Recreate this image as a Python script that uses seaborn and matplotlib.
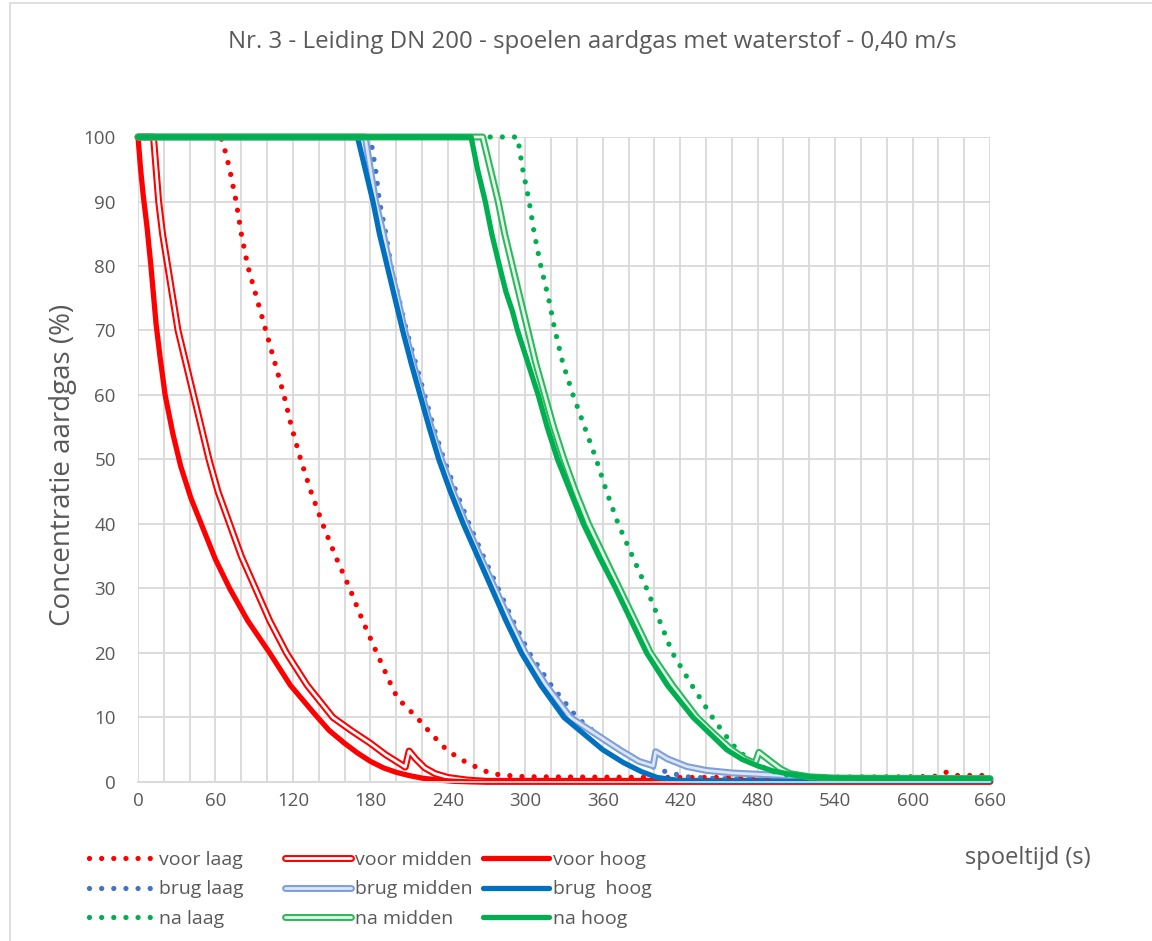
import matplotlib

matplotlib.use("Agg")
import matplotlib.pyplot as plt
import seaborn as sns
from matplotlib.legend_handler import HandlerTuple
from matplotlib.lines import Line2D
from matplotlib.patches import Rectangle

# values: spoeltijd (s) vs concentratie aardgas (%)
voor_laag_t = [0, 64, 66, 71, 76, 80, 85, 92, 99, 106, 113, 119, 126, 134, 143, 153, 164, 174, 185, 195,
               201, 216, 227, 239, 250, 260, 270, 280, 300, 400, 500, 600, 620, 626, 632, 660]
voor_laag_c = [100, 100, 99, 95, 90, 85, 80, 75, 70, 65, 60, 55, 50, 45, 40, 35, 30, 25, 20, 15.5,
               13, 10, 7.5, 5, 3.5, 2.5, 1.6, 1.1, 0.8, 0.7, 0.7, 0.8, 0.9, 1.5, 1.0, 1.0]
voor_midden_t = [0, 12, 14, 16, 19, 23, 27, 31, 37, 43, 49, 55, 62, 71, 80, 91, 102, 115, 131, 151, 165,
                 180, 192, 200, 207, 210, 215, 222, 230, 240, 255, 270, 660]
voor_midden_c = [100, 100, 95, 90, 85, 80, 75, 70, 65, 60, 55, 50, 45, 40, 35, 30, 25, 20, 15, 10, 8,
                 6, 4.2, 3.2, 2.3, 4.8, 3.6, 2.2, 1.3, 0.7, 0.3, 0.1, 0.1]
voor_hoog_t = [0, 2, 4, 7, 10, 14, 17, 21, 27, 33, 41, 50, 60, 71, 85, 102, 118, 137, 148, 160, 170,
               180, 190, 200, 210, 220, 232, 245, 260, 660]
voor_hoog_c = [100, 95, 91, 86, 80, 71, 66, 60, 54, 49, 44, 39.5, 34.5, 30, 25, 20, 15, 10.5, 8, 6, 4.5,
               3.2, 2.2, 1.5, 1.0, 0.6, 0.3, 0.1, 0.0, 0.0]

brug_laag_t = [0, 180, 184, 187, 192, 196, 202, 208, 215, 222, 229, 237, 246.5, 256.5, 267.5, 279, 290.5,
               303, 320, 340, 355, 372, 390, 410, 425, 450, 660]
brug_laag_c = [100, 100, 95, 90, 85, 80, 75, 70, 65, 60, 55, 50, 45, 40, 35, 30, 25,
               20, 15, 10, 7.5, 5, 3, 1.5, 0.8, 0.5, 0.5]
brug_midden_t = [0, 176, 180, 184, 190, 195, 201, 206.5, 213, 220, 227, 235, 244, 254, 265, 276.5, 288,
                 300, 316, 335, 354, 373, 388, 399, 401, 410, 425, 440, 460, 480, 500, 520, 540, 660]
brug_midden_c = [100, 100, 95, 90, 85, 80, 75, 70, 65, 60, 55, 50, 45, 40, 35, 30, 25,
                 20, 15, 10, 7.5, 5, 3.2, 2.5, 4.7, 3.6, 2.4, 1.8, 1.4, 1.2, 1.0, 0.7, 0.5, 0.5]
brug_hoog_t = [0, 170, 176, 182, 187, 193, 199, 205, 211.5, 218.5, 225.5, 233, 242, 252, 263, 274, 285,
               297, 312, 330, 345, 360, 376, 390, 402, 420, 440, 660]
brug_hoog_c = [100, 100, 95, 90, 85, 80, 75, 70, 65, 60, 55, 50, 45, 40, 35, 30, 25,
               20, 15, 10, 7.5, 5, 3, 1.6, 0.7, 0.2, 0.1, 0.1]

na_laag_t = [0, 294, 298, 303, 307, 312, 318, 323, 329, 337, 346, 355, 363, 372, 383, 394, 404, 414,
             429, 445, 454, 464, 475, 487, 496, 505, 520, 660]
na_laag_c = [100, 100, 95, 90, 85, 80, 75, 70, 65, 60, 55, 50, 45, 40, 35, 30, 25, 20,
             15, 10, 7.5, 5, 3.2, 2, 1.4, 1, 0.6, 0.5]
na_midden_t = [0, 267, 273, 279, 284, 290, 296, 302, 308, 315, 322, 330, 339, 349, 361, 373, 385, 397,
               414, 433, 446, 460, 470, 478, 481, 490, 498, 505, 520, 540, 660]
na_midden_c = [100, 100, 95, 90, 85, 80, 75, 70, 65, 60, 55, 50, 45, 40, 35, 30, 25, 20,
               15, 10, 7.5, 5, 3.6, 2.9, 4.6, 3.2, 2.0, 1.3, 0.8, 0.6, 0.5]
na_hoog_t = [0, 258, 263, 269, 274, 280, 285, 290, 294, 302, 310, 317, 325, 335, 345, 357, 370, 382, 394,
             410, 430, 443, 456, 468, 480, 492, 505, 520, 540, 660]
na_hoog_c = [100, 100, 95, 90, 85, 80, 76, 73, 70, 65, 60, 55, 50, 45, 40, 35, 30, 25, 20,
             15, 10, 7.5, 5, 3.5, 2.5, 1.7, 1.2, 0.8, 0.6, 0.5]

x_ticks = list(range(0, 661, 60))
y_ticks = list(range(0, 101, 10))

TEXT = "#595959"
GRID = "#D9D9D9"

# (label, t, c, kind, colour, inner colour for the double line)
series = [
    ("voor laag", voor_laag_t, voor_laag_c, "dot", "#FF0000", None),
    ("voor midden", voor_midden_t, voor_midden_c, "double", "#FF0000", "white"),
    ("voor hoog", voor_hoog_t, voor_hoog_c, "solid", "#FF0000", None),
    ("brug laag", brug_laag_t, brug_laag_c, "dot", "#4472C4", None),
    ("brug midden", brug_midden_t, brug_midden_c, "double", "#7F9FD8", "#DCE5F6"),
    ("brug  hoog", brug_hoog_t, brug_hoog_c, "solid", "#0070C0", None),
    ("na laag", na_laag_t, na_laag_c, "dot", "#00B050", None),
    ("na midden", na_midden_t, na_midden_c, "double", "#2DB85E", "#E4F6EA"),
    ("na hoog", na_hoog_t, na_hoog_c, "solid", "#00B050", None),
]

sns.set_theme(style="white")
plt.rcParams["font.family"] = ["Open Sans", "DejaVu Sans"]

fig = plt.figure(figsize=(11.52, 9.41), dpi=100)
ax = fig.add_axes([0.1198, 0.169, 0.7396, 0.6854])

DOT = dict(lw=3.8, linestyle=(0, (0.001, 2.3)), dash_capstyle="round")
OUTER, INNER, THICK = 5.0, 2.0, 3.8
handles = {}
for label, t, c, kind, color, inner in series:
    if kind == "dot":
        sns.lineplot(x=t, y=c, ax=ax, color=color, estimator=None, sort=False, clip_on=False, **DOT)
        handles[label] = Line2D([], [], color=color, **DOT)
    elif kind == "solid":
        sns.lineplot(x=t, y=c, ax=ax, color=color, lw=THICK, estimator=None, sort=False, clip_on=False)
        handles[label] = Line2D([], [], color=color, lw=THICK)
    else:
        sns.lineplot(x=t, y=c, ax=ax, color=color, lw=OUTER, estimator=None, sort=False, clip_on=False)
        sns.lineplot(x=t, y=c, ax=ax, color=inner, lw=INNER, estimator=None, sort=False, clip_on=False)
        handles[label] = (Line2D([], [], color=color, lw=OUTER), Line2D([], [], color=inner, lw=INNER))

ax.set_xlim(0, 660)
ax.set_ylim(0, 100)
ax.set_xticks(x_ticks)
ax.set_xticks(range(0, 661, 20), minor=True)
ax.set_yticks(y_ticks)
ax.grid(True, which="both", axis="x", color=GRID, lw=1.3)
ax.grid(True, which="major", axis="y", color=GRID, lw=1.3)
ax.set_axisbelow(True)
for side in ["top", "right", "left"]:
    ax.spines[side].set_visible(False)
ax.spines["bottom"].set_color(GRID)
ax.spines["bottom"].set_linewidth(1.3)
ax.tick_params(axis="both", which="both", length=0, labelsize=13.5, colors=TEXT)
ax.tick_params(axis="y", pad=16)
ax.tick_params(axis="x", pad=7)

ax.set_ylabel("Concentratie aardgas (%)", fontsize=20, color=TEXT)
ax.yaxis.set_label_coords(-0.072, 0.491)
fig.text(0.838, 0.088, "spoeltijd (s)", fontsize=17, color=TEXT, ha="left", va="center")
fig.text(0.514, 0.955, "Nr. 3 - Leiding DN 200 - spoelen aardgas met waterstof - 0,40 m/s",
         fontsize=17.3, color=TEXT, ha="center", va="center")

columns = [
    (0.0773, ["voor laag", "brug laag", "na laag"]),
    (0.2474, ["voor midden", "brug midden", "na midden"]),
    (0.4193, ["voor hoog", "brug  hoog", "na hoog"]),
]
for x0, labels in columns:
    fig.legend([handles[k] for k in labels], labels, loc="upper left",
               bbox_to_anchor=(x0, 0.096), frameon=False, fontsize=14,
               labelcolor=TEXT, handlelength=3.4, handletextpad=0.22,
               labelspacing=0.6, borderpad=0, borderaxespad=0,
               handler_map={tuple: HandlerTuple(ndivide=1)})

# light chart frame as in the spreadsheet screenshot
fig.patches.append(Rectangle((10 / 1152, -0.01), 1.1, 1 - 3 / 941 + 0.01,
                             transform=fig.transFigure, fill=False,
                             edgecolor=GRID, lw=1.2))

fig.savefig("out.png", dpi=100)
